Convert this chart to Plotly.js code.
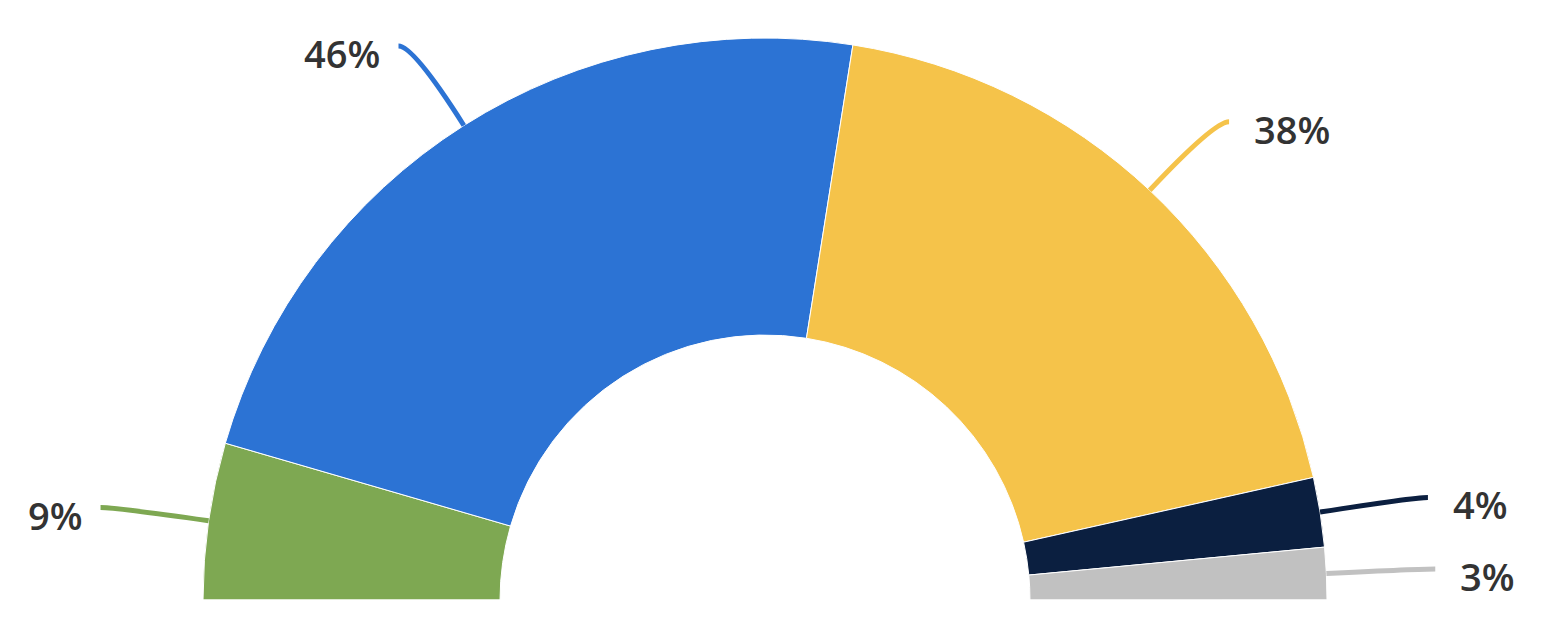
<!DOCTYPE html>
<html>
<head>
<meta charset="utf-8">
<script src="https://cdn.plot.ly/plotly-3.0.1.min.js"></script>
<style>
	body { margin: 0; background: #ffffff; }
	#wrap { width: 1543px; height: 629px; overflow: hidden; }
</style>
</head>
<body>
<div id="wrap"><div id="halfPie"></div></div>
<script>
// slices, left to right over the top
var labels = ["A", "B", "C", "D", "E"];
var values = [9, 46, 38, 4, 3];
var colors = ["#7ea852", "#2c73d4", "#f5c34a", "#0b1f40", "#c1c1c1"];

// page / pie geometry (px)
var W = 1543;
var H = 1200;          // div is taller than the window, bottom half is cut off
var cx = 765, cy = 600, R = 562;
var lineOut = 94;      // radial length of the connector
var lineFlat = 15;     // horizontal tail of the connector

var total = 0;
for (var i = 0; i < values.length; i++) total += values[i];

// invisible slice fills the lower half of the circle
var pieValues = values.concat([total]);
var pieColors = colors.concat(["rgba(0,0,0,0)"]);

function px(x) { return x / W; }
function py(y) { return (H - y) / H; }

var shapes = [];
var annotations = [];
var acc = 0;
for (var i = 0; i < values.length; i++) {
	// mid angle of the slice, 180deg = 9 o'clock, 0deg = 3 o'clock
	var mid = (acc + values[i] / 2) / total;
	acc += values[i];
	var a = Math.PI * (1 - mid);
	var x0 = cx + R * Math.cos(a), y0 = cy - R * Math.sin(a);
	var x1 = cx + (R + lineOut) * Math.cos(a), y1 = cy - (R + lineOut) * Math.sin(a);
	var right = Math.cos(a) > 0;
	var x2 = right ? x1 + lineFlat : x1 - lineFlat;

	shapes.push({
		type: "path",
		xref: "paper", yref: "paper",
		path: "M " + px(x0) + "," + py(y0) + " Q " + px(x1) + "," + py(y1) + " " + px(x2) + "," + py(y1),
		line: { color: colors[i], width: 5 }
	});
	annotations.push({
		xref: "paper", yref: "paper",
		x: px(right ? x2 + 23 : x2 - 16),
		y: py(y1 + 7),
		xanchor: right ? "left" : "right",
		yanchor: "middle",
		showarrow: false,
		text: values[i] + "%",
		font: { family: "Open Sans", size: 38, color: "#333333", weight: 600 }
	});
}

var data = [{
	type: "pie",
	labels: labels.concat(["rest"]),
	values: pieValues,
	sort: false,
	direction: "clockwise",
	rotation: 270,
	hole: 0.4715,
	textinfo: "none",
	hoverinfo: "skip",
	marker: { colors: pieColors, line: { color: "#ffffff", width: 1 } },
	domain: { x: [px(cx - R), px(cx + R)], y: [py(cy + R), py(cy - R)] }
}];

var layout = {
	width: W,
	height: H,
	showlegend: false,
	paper_bgcolor: "#ffffff",
	margin: { l: 0, r: 0, t: 0, b: 0 },
	shapes: shapes,
	annotations: annotations
};

Plotly.newPlot("halfPie", data, layout, { displayModeBar: false, staticPlot: true });
</script>
</body>
</html>
